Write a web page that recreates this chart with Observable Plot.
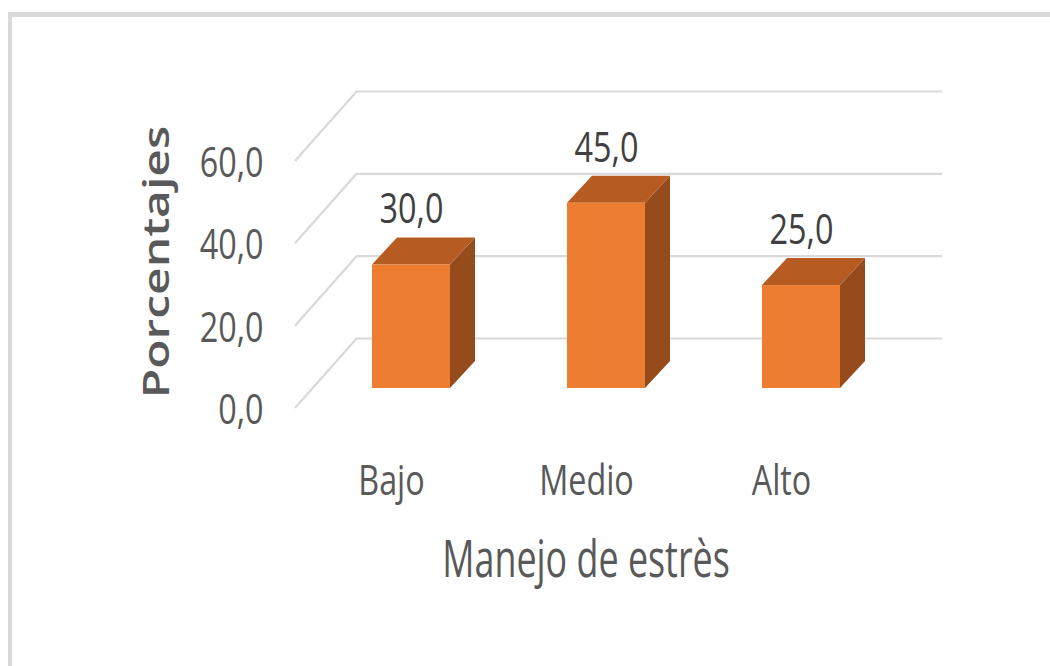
<!DOCTYPE html>
<html><head><meta charset="utf-8">
<script src="https://cdn.jsdelivr.net/npm/d3@7"></script>
<script src="https://cdn.jsdelivr.net/npm/@observablehq/plot@0.6"></script>
<style>
html,body{margin:0;padding:0;background:#fff;width:1050px;height:666px;overflow:hidden}
#frame{position:absolute;left:8px;top:12px;right:-10px;bottom:-10px;border-top:5px solid #d9d9d9;border-left:4px solid #d9d9d9;}
#chart{position:absolute;left:0;top:0}
</style></head><body>
<div id="frame"></div><div id="chart"></div>
<script>
// ---- data ----
const categories = ["Bajo", "Medio", "Alto"];
const values = [30.0, 45.0, 25.0];
const yTicks = [0, 20, 40, 60];
const xTitle = "Manejo de estrès";
const yTitle = "Porcentajes";

const data = categories.map((c, i) => ({cat: c, value: values[i]}));
const fmt = d => d.toFixed(1).replace(".", ",");

// ---- style ----
const FRONT_C = "#ed7d31", TOP_C = "#b65c23", SIDE_C = "#964b1c", GRID = "#d9d9d9";
const BACK = {dx: 44, dy: -50};      // back wall relative to bar front plane
const FLOOR = {dx: -18, dy: 20};     // front floor edge relative to bar front plane
const DEPTH = {dx: 25, dy: -27};     // bar depth
const K = 0.77;                      // horizontal text compression
const K_TITLE = 0.69;

function wallEdges(index, scales, values, dims) {
  const g = d3.create("svg:g").attr("stroke", GRID).attr("stroke-width", 2.2).attr("fill", "none");
  const xl = dims.marginLeft;
  for (const t of yTicks) {
    const yy = scales.y(t);
    g.append("line")
      .attr("x1", xl + BACK.dx).attr("y1", yy + BACK.dy)
      .attr("x2", xl + FLOOR.dx).attr("y2", yy + FLOOR.dy);
  }
  return g.node();
}

function barFaces(index, scales, values, dims) {
  const g = d3.create("svg:g");
  const x = scales.x, y = scales.y;
  const bw = typeof x.bandwidth === "function" ? x.bandwidth() : scales.scales.x.bandwidth;
  for (const d of data) {
    const x0 = x(d.cat), x1 = x0 + bw, yt = y(d.value), yb = y(0);
    const {dx, dy} = DEPTH;
    g.append("path").attr("fill", SIDE_C)
      .attr("d", `M${x1},${yt}L${x1 + dx},${yt + dy}L${x1 + dx},${yb + dy}L${x1},${yb}Z`);
    g.append("path").attr("fill", TOP_C)
      .attr("d", `M${x0},${yt}L${x0 + dx},${yt + dy}L${x1 + dx},${yt + dy}L${x1},${yt}Z`);
  }
  return g.node();
}

const chart = Plot.plot({
  width: 1050,
  height: 666,
  marginLeft: 313,
  marginRight: 152,
  marginTop: 141,
  marginBottom: 278,
  style: {fontFamily: "'Open Sans', sans-serif", background: "transparent", overflow: "visible"},
  x: {type: "band", domain: categories, paddingInner: 0.6, paddingOuter: 0.3, axis: null},
  y: {domain: [0, 60], axis: null},
  marks: [
    Plot.ruleY(yTicks, {y: d => d, dx: BACK.dx, dy: BACK.dy, stroke: GRID, strokeWidth: 2.2}),
    wallEdges,
    barFaces,
    Plot.barY(data, {x: "cat", y: "value", fill: FRONT_C}),
    Plot.text(data, {x: "cat", y: "value", text: d => fmt(d.value), dy: -55, fontSize: 42, fill: "#404040", lineAnchor: "middle"}),
    Plot.axisY(yTicks, {tickFormat: fmt, tickSize: 0, tickPadding: 50, dy: FLOOR.dy + 2, fontSize: 42, fill: "#595959", label: null}),
    Plot.axisX({tickSize: 0, tickPadding: 57, dx: FLOOR.dx - 2, dy: FLOOR.dy, fontSize: 42, fill: "#595959", label: null}),
    Plot.text([xTitle], {frameAnchor: "bottom", text: d => d, dx: -20, dy: 172, fontSize: 52, fill: "#595959", lineAnchor: "middle"}),
    Plot.text([yTitle], {frameAnchor: "left", text: d => d, rotate: -90, textAnchor: "middle", dx: -156, dy: -3, fontSize: 48, fontWeight: 600, fill: "#595959", lineAnchor: "middle"})
  ]
});

// compress text horizontally (Calibri-like narrow look)
d3.select(chart).selectAll("text").each(function () {
  const k = this.textContent === xTitle ? K_TITLE : K;
  const t = this.getAttribute("transform") || "";
  const m = t.match(/^\s*translate\([^)]*\)/);
  if (m) this.setAttribute("transform", m[0] + ` scale(${k},1)` + t.slice(m[0].length));
  else {
    const x = +this.getAttribute("x") || 0, y = +this.getAttribute("y") || 0;
    this.removeAttribute("x"); this.removeAttribute("y");
    this.setAttribute("transform", `translate(${x},${y}) scale(${k},1) ` + t);
  }
});
document.getElementById("chart").appendChild(chart);
</script>
</body></html>
